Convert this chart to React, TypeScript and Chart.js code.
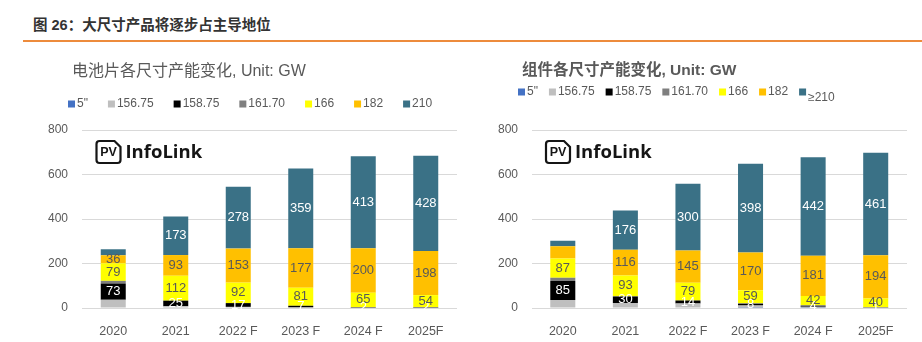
import React, { useEffect, useRef } from 'react';
import { Chart, registerables } from 'chart.js';

Chart.register(...registerables);

// ---------- text ----------
const pageTitle = '图 26：大尺寸产品将逐步占主导地位';
const cellTitle = '电池片各尺寸产能变化, Unit: GW';
const moduleTitle = '组件各尺寸产能变化, Unit: GW';

// ---------- categories / ticks ----------
const categories = ['2020', '2021', '2022 F', '2023 F', '2024 F', '2025F'];
const yTickValues = [0, 200, 400, 600, 800];

// ---------- series names ----------
const cellSeriesNames = ['5"', '156.75', '158.75', '161.70', '166', '182', '210'];
const moduleSeriesNames = ['5"', '156.75', '158.75', '161.70', '166', '182', '≥210'];

// ---------- cell capacity (GW) ----------
const cell5in = [0, 0, 0, 0, 0, 0];
const cell15675 = [37, 8, 5, 3, 1, 1];
const cell15875 = [73, 25, 17, 7, 2, 2];
const cell16170 = [12, 0, 0, 0, 1, 1];
const cell166 = [79, 112, 92, 81, 65, 54];
const cell182 = [36, 93, 153, 177, 200, 198];
const cell210 = [27, 173, 278, 359, 413, 428];

// ---------- module capacity (GW) ----------
const module5in = [0, 0, 0, 1, 1, 0];
const module15675 = [36, 22, 20, 10, 5, 1];
const module15875 = [85, 30, 14, 8, 4, 1];
const module16170 = [15, 1, 0, 2, 2, 1];
const module166 = [87, 93, 79, 59, 42, 40];
const module182 = [54, 116, 145, 170, 181, 194];
const module210 = [25, 176, 300, 398, 442, 461];

// labels hidden by hand in the source: [datasetIndex, categoryIndex]
const cellHiddenLabels: number[][] = [[6, 0]];
const moduleHiddenLabels: number[][] = [[5, 0], [6, 0]];

// ---------- styles ----------
const seriesColors = ['#4472C4', '#BFBFBF', '#000000', '#7F7F7F', '#FFFF00', '#FFC000', '#3A7186'];
const labelledSeries = [2, 4, 5, 6];
const labelColors: Record<number, string> = { 2: '#FFFFFF', 4: '#595959', 5: '#595959', 6: '#FFFFFF' };
const TEXT = '#595959';
const LATIN = '"Liberation Sans", Arial, "Noto Sans CJK SC", sans-serif';

const headerPlugin = {
  id: 'header',
  afterDraw(chart: any, _a: any, opts: any) {
    const ctx = chart.ctx;
    ctx.save();
    ctx.textBaseline = 'middle';
    ctx.textAlign = 'left';
    ctx.fillStyle = TEXT;
    ctx.font = opts.titleFont;
    ctx.fillText(opts.title, opts.titleX, opts.titleY);
    ctx.font = `12px ${LATIN}`;
    let x = opts.legendX;
    const n = chart.data.datasets.length;
    chart.data.datasets.forEach((ds: any, i: number) => {
      ctx.fillStyle = ds.backgroundColor;
      ctx.fillRect(x, opts.legendY - 3.5, 7, 7);
      ctx.fillStyle = TEXT;
      const dy = opts.dropLast && i === n - 1 ? 6 : 0;
      ctx.fillText(ds.label, x + 9, opts.legendY + dy);
      x += 9 + ctx.measureText(ds.label).width + opts.legendGap;
    });
    ctx.restore();
  },
};

const logoPlugin = {
  id: 'logo',
  beforeDatasetsDraw(chart: any) {
    const { ctx, chartArea } = chart;
    const x = chartArea.left + 14.5;
    const y = chartArea.top + 11;
    const w = 24, h = 22, r = 3, fold = 6;
    ctx.save();
    ctx.strokeStyle = '#151515';
    ctx.lineWidth = 2.2;
    ctx.beginPath();
    ctx.moveTo(x + r, y);
    ctx.lineTo(x + w - fold, y);
    ctx.lineTo(x + w, y + fold);
    ctx.lineTo(x + w, y + h - r);
    ctx.quadraticCurveTo(x + w, y + h, x + w - r, y + h);
    ctx.lineTo(x + r, y + h);
    ctx.quadraticCurveTo(x, y + h, x, y + h - r);
    ctx.lineTo(x, y + r);
    ctx.quadraticCurveTo(x, y, x + r, y);
    ctx.closePath();
    ctx.stroke();
    ctx.fillStyle = '#151515';
    ctx.textBaseline = 'middle';
    ctx.textAlign = 'center';
    ctx.font = `bold 12.5px ${LATIN}`;
    ctx.fillText('PV', x + w / 2, y + h / 2 + 1);
    ctx.textAlign = 'left';
    ctx.font = '700 18.5px "Open Sans", sans-serif';
    ctx.fillText('InfoLink', x + w + 5, y + h / 2 + 1);
    ctx.restore();
  },
};

const valueLabelPlugin = {
  id: 'valueLabels',
  afterDatasetsDraw(chart: any, _a: any, opts: any) {
    const ctx = chart.ctx;
    const hidden: number[][] = opts.hidden || [];
    ctx.save();
    ctx.font = `13px ${LATIN}`;
    ctx.textAlign = 'center';
    ctx.textBaseline = 'middle';
    labelledSeries.forEach((di) => {
      const ds = chart.data.datasets[di];
      const meta = chart.getDatasetMeta(di);
      ds.data.forEach((v: number, i: number) => {
        if (!v) return;
        if (hidden.some((h) => h[0] === di && h[1] === i)) return;
        const el = meta.data[i];
        const cy = (el.y + el.base) / 2;
        ctx.fillStyle = labelColors[di];
        ctx.fillText(String(v), el.x, cy);
      });
    });
    ctx.restore();
  },
};

function buildConfig(
  names: string[],
  series: number[][],
  hidden: number[][],
  pad: { left: number; right: number },
  tickPad: number,
  header: any
): any {
  return {
    type: 'bar',
    data: {
      labels: categories,
      datasets: series.map((d, i) => ({
        label: names[i],
        data: d,
        backgroundColor: seriesColors[i],
        borderWidth: 0,
        barPercentage: 0.4,
        categoryPercentage: 1,
      })),
    },
    options: {
      responsive: false,
      animation: false,
      layout: { padding: { top: 84, bottom: 0, left: pad.left, right: pad.right } },
      plugins: {
        legend: { display: false },
        title: { display: false },
        tooltip: { enabled: false },
        header,
        valueLabels: { hidden },
      },
      scales: {
        x: {
          stacked: true,
          grid: { display: false },
          border: { display: false },
          ticks: { color: TEXT, font: { size: 12.5, family: LATIN }, padding: 8, maxRotation: 0 },
          afterFit(s: any) {
            s.height = 34;
          },
        },
        y: {
          stacked: true,
          min: 0,
          max: 800,
          afterBuildTicks(s: any) {
            s.ticks = yTickValues.map((v) => ({ value: v }));
          },
          ticks: { color: TEXT, font: { size: 12, family: LATIN }, padding: tickPad },
          grid: { color: '#D9D9D9', lineWidth: 1, drawTicks: false },
          border: { display: false },
          afterFit(s: any) {
            s.width = 50;
          },
        },
      },
    },
    plugins: [logoPlugin, valueLabelPlugin, headerPlugin],
  };
}

function ChartCanvas({ config, style }: { config: any; style: React.CSSProperties }) {
  const ref = useRef<HTMLCanvasElement | null>(null);
  useEffect(() => {
    if (!ref.current) return;
    const chart = new Chart(ref.current, config);
    return () => chart.destroy();
  }, [config]);
  return <canvas ref={ref} width={461} height={296} style={{ position: 'absolute', width: 461, height: 296, ...style }} />;
}

const cellConfig = buildConfig(
  cellSeriesNames,
  [cell5in, cell15675, cell15875, cell16170, cell166, cell182, cell210],
  cellHiddenLabels,
  { left: 32, right: 4 },
  14,
  {
    title: cellTitle,
    titleFont: `16px ${LATIN}`,
    titleX: 72,
    titleY: 26,
    legendX: 68,
    legendY: 58,
    legendGap: 20,
    dropLast: false,
  }
);

const moduleConfig = buildConfig(
  moduleSeriesNames,
  [module5in, module15675, module15875, module16170, module166, module182, module210],
  moduleHiddenLabels,
  { left: 20.5, right: 15 },
  13.5,
  {
    title: moduleTitle,
    titleFont: `bold 15.5px ${LATIN}`,
    titleX: 61,
    titleY: 25,
    legendX: 57,
    legendY: 46,
    legendGap: 11,
    dropLast: true,
  }
);

export default function App() {
  return (
    <div style={{ position: 'absolute', left: 0, top: 0, width: 922, height: 342, background: '#FFFFFF', overflow: 'hidden' }}>
      <div
        style={{
          position: 'absolute',
          left: 33,
          top: 15,
          fontFamily: '"Liberation Sans", "Noto Sans CJK SC", sans-serif',
          fontWeight: 'bold',
          fontSize: 14.5,
          color: '#333333',
          whiteSpace: 'nowrap',
          lineHeight: '20px',
        }}
      >
        {pageTitle}
      </div>
      <div style={{ position: 'absolute', left: 23, top: 40, width: 899, height: 2, background: '#ED8B3C' }} />
      <ChartCanvas config={cellConfig} style={{ left: 0, top: 46 }} />
      <ChartCanvas config={moduleConfig} style={{ left: 461, top: 46 }} />
    </div>
  );
}
